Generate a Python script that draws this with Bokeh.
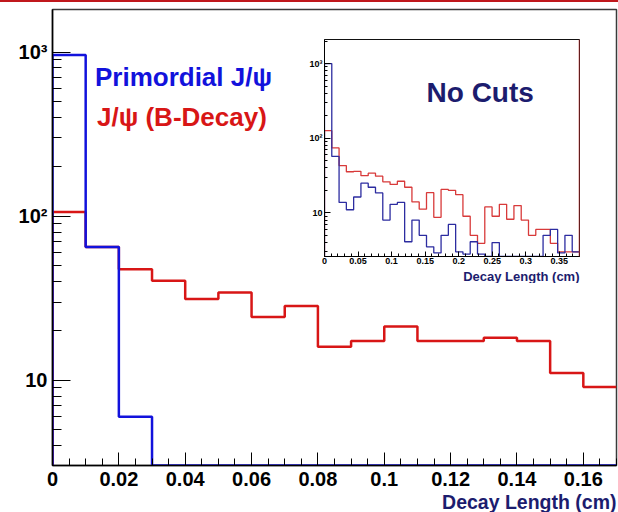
from bokeh.plotting import figure
from bokeh.models import FixedTicker, CustomJSTickFormatter, Label, Span, Div, Title
from bokeh.layouts import column
from bokeh.embed import file_html
from bokeh.resources import INLINE

# ---- main histograms: decay length, 0.01 cm bins from 0 to 0.17 cm ----
main_bin_width = 0.01
main_primordial = [960, 65, 6.0, 0, 0, 0, 0, 0, 0, 0, 0, 0, 0, 0, 0, 0, 0]
main_bdecay = [106, 65, 47.5, 40.5, 31.3, 34.3, 24.3, 28.4, 16.0, 17.4,
               21.3, 17.4, 17.4, 18.2, 17.4, 11.1, 9.1]
main_x_ticks = [0, 0.02, 0.04, 0.06, 0.08, 0.1, 0.12, 0.14, 0.16]
main_x_tick_labels = ["0", "0.02", "0.04", "0.06", "0.08", "0.1", "0.12", "0.14", "0.16"]
main_y_ticks = [10, 100, 1000]
main_y_tick_labels = ["10", "10\u00b2", "10\u00b3"]

# ---- inset histograms: no cuts, 35 bins from 0 to 0.38 cm ----
inset_x_max = 0.38
inset_nbins = 35
inset_primordial = [1000, 57, 13.8, 11, 16.3, 25, 22, 18.5, 8, 13, 13.8, 4.1,
                    8, 5, 3.5, 2.9, 5, 7, 3, 2.8, 4.1, 2.8, 0, 4, 0, 0, 0, 0,
                    0, 0, 5, 6, 2.9, 5, 3]
inset_bdecay = [126, 74, 43, 35.5, 36, 31.5, 34, 31, 26, 24, 26.5, 22, 14,
                11.2, 18.6, 8.7, 20.6, 20, 17.5, 9, 5, 3.9, 12, 9, 13, 8.2,
                12.5, 8, 5, 6, 6, 3.9, 3, 3, 3]
inset_x_ticks = [0, 0.05, 0.1, 0.15, 0.2, 0.25, 0.3, 0.35]
inset_x_tick_labels = ["0", "0.05", "0.1", "0.15", "0.2", "0.25", "0.3", "0.35"]
inset_y_ticks = [10, 100, 1000]
inset_y_tick_labels = ["10", "10\u00b2", "10\u00b3"]

BLUE = "#1212dc"
RED = "#d81616"
NAVY = "#1c1c6e"
FONT = "Liberation Sans"


def step_path(values, width, floor):
    """Outline of a histogram; empty bins sit on the lower edge of the frame."""
    xs, ys = [0.0], [floor]
    for i, v in enumerate(values):
        v = max(v, floor)
        xs += [i * width, (i + 1) * width]
        ys += [v, v]
    return xs, ys


def label_formatter(vals, labels):
    return CustomJSTickFormatter(args=dict(vals=vals, labels=labels), code="""
        let best = 0, dmin = Infinity;
        for (let k = 0; k < vals.length; k++) {
            const d = Math.abs(vals[k] - tick) / Math.max(Math.abs(vals[k]), 1e-9);
            const e = Math.abs(vals[k] - tick);
            const s = vals[k] === 0 ? e * 1e6 : d;
            if (s < dmin) { dmin = s; best = k; }
        }
        return labels[best];
    """)


def log_minor(lo, hi):
    out = []
    for dec in [1, 10, 100, 1000]:
        for m in range(2, 10):
            t = m * dec
            if lo <= t <= hi:
                out.append(t)
    return out


def style_axes(fig, font_size, x_in, x_minor_in, y_in, y_minor_in, x_stand, y_stand, width):
    for ax in (fig.xaxis[0], fig.yaxis[0]):
        ax.major_tick_out = 0
        ax.minor_tick_out = 0
        ax.major_label_text_font = FONT
        ax.major_label_text_font_style = "bold"
        ax.major_label_text_font_size = font_size
        ax.major_label_text_color = "black"
        ax.axis_line_color = "black"
        ax.axis_line_width = width
        ax.major_tick_line_color = "black"
        ax.minor_tick_line_color = "black"
        ax.major_tick_line_width = 1
        ax.minor_tick_line_width = 1
    fig.xaxis.major_tick_in = x_in
    fig.xaxis.minor_tick_in = x_minor_in
    fig.yaxis.major_tick_in = y_in
    fig.yaxis.minor_tick_in = y_minor_in
    fig.xaxis.major_label_standoff = x_stand
    fig.yaxis.major_label_standoff = y_stand
    fig.grid.visible = False


# ---------------- main plot ----------------
main_x_end = 0.17
main_y_start, main_y_end = 3.03, 1816

p = figure(frame_width=564, frame_height=456, x_range=(0, main_x_end),
           y_range=(main_y_start, main_y_end), y_axis_type="log",
           output_backend="svg", toolbar_location=None,
           min_border_left=52, min_border_right=2, min_border_top=7,
           min_border_bottom=10)
p.background_fill_color = "white"
p.border_fill_color = "white"
p.outline_line_color = "#3a3a3a"
p.outline_line_width = 1.5

p.xaxis.ticker = FixedTicker(ticks=main_x_ticks,
                             minor_ticks=[k * 0.005 for k in range(35)])
p.xaxis.formatter = label_formatter(main_x_ticks, main_x_tick_labels)
p.yaxis.ticker = FixedTicker(ticks=main_y_ticks,
                             minor_ticks=log_minor(main_y_start, main_y_end))
p.yaxis.formatter = label_formatter(main_y_ticks, main_y_tick_labels)
style_axes(p, "20px", 13, 7, 18, 9, 6, 5, 1.5)

xs, ys = step_path(main_bdecay, main_bin_width, main_y_start)
p.line(xs, ys, line_color=RED, line_width=2.5)
xs, ys = step_path(main_primordial, main_bin_width, main_y_start)
p.line(xs, ys, line_color=BLUE, line_width=2.5)

p.add_layout(Label(x=0.0128, y=704, text="Primordial J/\u03c8", text_font=FONT,
                   text_font_style="bold", text_font_size="26px",
                   text_color=BLUE, text_baseline="middle"))
p.add_layout(Label(x=0.0134, y=402, text="J/\u03c8 (B-Decay)", text_font=FONT,
                   text_font_style="bold", text_font_size="26px",
                   text_color=RED, text_baseline="middle"))
p.add_layout(Title(text="Decay Length (cm)", align="right", text_font=FONT,
                   text_font_style="bold", text_font_size="19.5px",
                   text_color=NAVY, standoff=0, offset=0), "below")

# ---------------- inset plot ----------------
inset_y_start, inset_y_end = 2.6, 2100
inset_bin_width = inset_x_max / inset_nbins

q = figure(frame_width=255, frame_height=217, x_range=(0, inset_x_max),
           y_range=(inset_y_start, inset_y_end), y_axis_type="log",
           output_backend="svg", toolbar_location=None,
           min_border_left=52, min_border_right=2, min_border_top=11,
           min_border_bottom=5,
           styles={"position": "absolute", "left": "272px", "top": "28px"})
q.background_fill_color = "white"
q.border_fill_alpha = 0
q.outline_line_color = "#111111"
q.outline_line_width = 1

q.xaxis.ticker = FixedTicker(ticks=inset_x_ticks,
                             minor_ticks=[k * 0.01 for k in range(39)])
q.xaxis.formatter = label_formatter(inset_x_ticks, inset_x_tick_labels)
q.yaxis.ticker = FixedTicker(ticks=inset_y_ticks,
                             minor_ticks=log_minor(inset_y_start, inset_y_end))
q.yaxis.formatter = label_formatter(inset_y_ticks, inset_y_tick_labels)
style_axes(q, "9px", 5, 3, 6, 3, 1, 2, 1)

xs, ys = step_path(inset_bdecay, inset_bin_width, inset_y_start)
q.line(xs, ys, line_color="#d83a3a", line_width=1.3)
xs, ys = step_path(inset_primordial, inset_bin_width, inset_y_start)
q.line(xs, ys, line_color="#2c2ca0", line_width=1.3)
q.add_layout(Span(location=inset_x_max, dimension="height",
                  line_color="#b82a2a", line_width=1.5))

q.add_layout(Label(x=0.232, y=412, text="No Cuts", text_font=FONT,
                   text_font_style="bold", text_font_size="28px",
                   text_color=NAVY, text_align="center", text_baseline="middle"))
q.add_layout(Title(text="Decay Length (cm)", align="right", text_font=FONT,
                   text_font_style="bold", text_font_size="13px",
                   text_color=NAVY, standoff=0, offset=0), "below")

top_rule = Div(text="", width=618, height=2, margin=(0, 0, 0, 0),
               styles={"background-color": "#c0181c"})

layout = column(top_rule, p, q, spacing=0)
open("out.html", "w").write(file_html(layout, INLINE))
